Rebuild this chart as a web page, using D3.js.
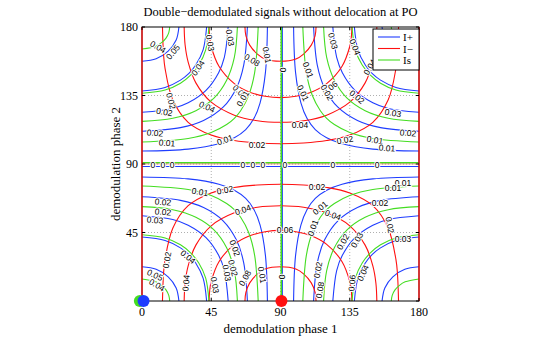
<!DOCTYPE html>
<html><head><meta charset="utf-8">
<script src="https://cdn.jsdelivr.net/npm/d3@7"></script>
<style>body{margin:0;background:#fff}</style>
</head><body>
<svg id="c" width="545" height="341"></svg>
<script>
// ---------------- data ----------------
const title = "Double\u2212demodulated signals without delocation at PO";
const xLabel = "demodulation phase 1";
const yLabel = "demodulation phase 2";
const xTicks = [0, 45, 90, 135, 180];
const yTicks = [0, 45, 90, 135, 180];
const yTickLabels = ["", "45", "90", "135", "180"]; // the "0" is hidden behind the markers
const seriesNames = ["I+", "I\u2212", "Is"];
const seriesColors = ["#1f3dff", "#ff1010", "#44dd22"];

// corners the I+ / Is contours wrap around
const corners = [[0, 0], [180, 0], [0, 180], [180, 180]];

// I+ (blue) contours: [distance from corner along x, distance along y]
const bluePlusLevels = [0.05, 0.04, 0.03, 0.02, 0.01];
const bluePlusArcs = [
  [[0,22.5],[9.2,20.8],[17,15.9],[22.2,8.6],[24,0]],
  [[0,42],[15,39.7],[25,34.9],[30.5,30.5],[34.9,25],[39.7,15],[42,0]],
  [[0,56],[20,53.5],[30,49.8],[41.6,41.6],[49.8,30],[53.5,20],[56,0]],
  [[0,68.5],[25,66.1],[40,61.4],[52.7,52.7],[61.4,40],[66.1,25],[68.5,0]],
  [[0,81.5],[30,80.2],[50,76.7],[60,72.8],[67.4,67.4],[72.8,60],[76.7,50],[80.2,30],[81.5,0]]
];

// Is (green) contours
const isLevels = [0.04, 0.03, 0.02, 0.01];
const isArcs = [
  [[0,14.5],[9,12.6],[12.7,10.3],[15.6,7.3],[17.4,3.7],[18,0]],
  [[0,43.5],[15,41.4],[25,36.9],[31.6,31.6],[36.9,25],[41.4,15],[43.5,0]],
  [[0,62],[20,60],[35,55],[46.75,46.75],[55,35],[60,20],[62,0]],
  [[0,75.5],[30,73.2],[45,69.3],[55,64.1],[60,60],[64.1,55],[69.3,45],[73.2,30],[75.5,0]]
];

// I- (red) contours: [phase 1, distance from bottom (or top) edge]
const minusEdges = [0, 180];
const minusLevels = [0.08, 0.06, 0.04, 0.02];
const minusArcs = [
  [[66.9,0],[67.5,5.6],[70,11.9],[75,17.8],[80,21],[90,22.5],[100,21],[105,17.8],[110,11.9],[112.5,5.6],[113.1,0]],
  [[43.6,0],[44,6.9],[45,12.8],[50,25.8],[60,37.2],[70,42.8],[80,45.5],[90,46.4],[100,45.5],[110,42.8],[120,37.2],[130,25.8],[135,12.8],[136,6.9],[136.4,0]],
  [[27.4,0],[28,11.7],[30,23.1],[35,36.7],[45,49.4],[60,57.9],[75,61.6],[90,62.6],[105,61.6],[120,57.9],[135,49.4],[145,36.7],[150,23.1],[152,11.7],[152.6,0]],
  [[13.3,0],[14,18.1],[15,27.3],[20,47.8],[30,62.6],[45,71],[60,74.6],[75,76.2],[90,76.7],[105,76.2],[120,74.6],[135,71],[150,62.6],[160,47.8],[165,27.3],[166,18.1],[166.7,0]]
];

// zero-level contours
const bluePlusZero = [[[91.2,0],[91.2,180]], [[0,88.4],[180,88.4]]];
const minusZero = [[[0,0],[0,180]], [[180,0],[180,180]], [[0,90],[180,90]]];
const isZero = [[[90.5,0],[90.5,180]], [[0,90.8],[180,90.8]]];

// markers: [phase1, phase2, series index]
const markers = [[-1.4, 0, 2], [1, 0, 0], [90.6, 0, 1]];

// contour labels: [text, phase1, phase2, rotation]
const contourLabels = [
  ["0.04",10.4,166.9,30],["0.05",20.1,163.6,-50],["0.03",44.2,169.5,80],["0.03",57.2,173,80],
  ["0.04",36.4,153.1,-55],["0.01",81.2,161.6,80],["0.08",71.5,158.3,30],["0.06",63.7,137.3,45],
  ["0.01",65.5,133,-60],["0.02",18.8,131.4,75],["0.02",14.5,124.2,10],["0.04",42.2,127.5,25],
  ["0.02",8.4,110.4,5],["0.01",16.2,103.8,5],["0.01",53.9,105.8,-20],["0.02",74.7,102.5,0],
  ["0",91.6,151.8,90],["0.03",124.1,170.8,75],["0.01",107.9,151.8,70],["0.06",122.2,139.9,-40],
  ["0.02",120.2,137,60],["0.01",104.6,136.7,65],["0.04",102.7,115.6,0],["0.02",131.9,105.8,-10],
  ["0.02",139.7,134,40],["0.04",148.1,153.7,-60],["0.04",138.4,166.9,70],["0.03",163.1,123.5,10],
  ["0.02",172.8,110.4,5],["0.01",151.4,105.8,10],["0.01",159.2,100.5,5],
  ["0",7.1,89.4,0],["0",13.6,89.4,0],["0",19.5,89.4,0],["0",65.6,89.4,0],["0",72.1,89.4,0],["0",78.6,89.4,0],
  ["0.01",37.7,71.6,10],["0.02",53.9,72.9,-10],["0.02",13.6,65,5],["0.02",13.6,58.5,5],["0.03",8.4,53.2,5],
  ["0.04",65.6,59.8,-20],["0.06",92.9,46.6,0],["0.02",16.2,26.9,-80],["0.04",29.9,28.9,40],
  ["0.05",8.4,17.1,25],["0.04",9.7,10.5,30],["0.04",28.6,11.8,-85],["0.03",47.4,10.5,80],
  ["0.03",55.2,18.4,80],["0.02",60.4,34.8,70],["0.02",59.1,21.7,75],["0.08",66.9,15.1,-60],
  ["0.01",78,17.1,80],["0",91,15.8,90],
  ["0",92.9,89.4,0],["0",124.1,89.4,0],["0",152.7,89.4,0],
  ["0.02",113.7,74.9,0],["0.01",169.6,77.5,0],["0.01",163.1,74.2,0],["0.01",115.7,61.1,-40],
  ["0.04",124.1,56.5,20],["0.02",154.6,64.4,0],["0.01",111.1,48,-70],["0.02",130.6,38.8,-60],
  ["0.03",139.7,40.1,-60],["0.03",169.6,40.7,0],["0.02",161.1,49.9,80],["0.02",114.4,20.4,-80],
  ["0.08",115.7,7.2,-80],["0.04",143.6,18.4,-65],["0.06",136.5,11.8,-85]
];

// ---------------- drawing ----------------
const svg = d3.select("#c");
svg.append("rect").attr("width",545).attr("height",341).attr("fill","#fff");
const x = d3.scaleLinear().domain([0,180]).range([142,419]);
const y = d3.scaleLinear().domain([0,180]).range([301,27]);

svg.append("defs").append("clipPath").attr("id","clip")
  .append("rect").attr("x",x(0)).attr("y",y(180)).attr("width",x(180)-x(0)).attr("height",y(0)-y(180));

// grid
const grid = svg.append("g").attr("stroke","#9a9a9a").attr("stroke-width",0.8).attr("stroke-dasharray","1,2");
xTicks.slice(1,-1).forEach(t=>grid.append("line").attr("x1",x(t)).attr("x2",x(t)).attr("y1",y(0)).attr("y2",y(180)));
yTicks.slice(1,-1).forEach(t=>grid.append("line").attr("y1",y(t)).attr("y2",y(t)).attr("x1",x(0)).attr("x2",x(180)));

const line = d3.line().x(d=>x(d[0])).y(d=>y(d[1])).curve(d3.curveCatmullRom.alpha(0.5));
const sline = d3.line().x(d=>x(d[0])).y(d=>y(d[1]));
const plot = svg.append("g").attr("clip-path","url(#clip)").attr("fill","none").attr("stroke-width",1.1);

function cornerPath(pts, c){
  return pts.map(p=>[c[0]===0 ? p[0] : 180-p[0], c[1]===0 ? p[1] : 180-p[1]]);
}
function drawCorner(arcs, color){
  corners.forEach(c=>arcs.forEach(a=>plot.append("path").attr("d",line(cornerPath(a,c))).attr("stroke",color)));
}
function drawSimple(list, color, w){
  list.forEach(l=>plot.append("path").attr("d",sline(l)).attr("stroke",color).attr("stroke-width",w||1.1));
}

// I+ (blue)
drawCorner(bluePlusArcs, seriesColors[0]);
drawSimple(bluePlusZero, seriesColors[0]);
// I- (red)
minusEdges.forEach(e=>minusArcs.forEach(a=>{
  const pts = a.map(p=>[p[0], e===0 ? p[1] : 180-p[1]]);
  plot.append("path").attr("d",line(pts)).attr("stroke",seriesColors[1]);
}));
// Is (green)
drawCorner(isArcs, seriesColors[2]);
drawSimple(isZero, seriesColors[2], 1.6);

// axes box
svg.append("rect").attr("x",x(0)).attr("y",y(180)).attr("width",x(180)-x(0)).attr("height",y(0)-y(180))
  .attr("fill","none").attr("stroke","#000").attr("stroke-width",1);
// red zero contours on top (they coincide with the left/right frame)
const topG = svg.append("g").attr("fill","none");
minusZero.forEach(l=>topG.append("path").attr("d",sline(l))
  .attr("stroke",seriesColors[1]).attr("stroke-width", l[0][1]===90 ? 0.8 : 1.3).attr("opacity", l[0][1]===90 ? 0.5 : 1));

// ticks
const tk = svg.append("g").attr("stroke","#000").attr("stroke-width",1);
xTicks.forEach(t=>{
  tk.append("line").attr("x1",x(t)).attr("x2",x(t)).attr("y1",y(0)).attr("y2",y(0)-3);
  tk.append("line").attr("x1",x(t)).attr("x2",x(t)).attr("y1",y(180)).attr("y2",y(180)+3);
});
yTicks.forEach(t=>{
  tk.append("line").attr("y1",y(t)).attr("y2",y(t)).attr("x1",x(0)).attr("x2",x(0)+3);
  tk.append("line").attr("y1",y(t)).attr("y2",y(t)).attr("x1",x(180)).attr("x2",x(180)-3);
});

// contour labels
svg.append("g").selectAll("text").data(contourLabels).join("text")
  .attr("transform",d=>`translate(${x(d[1])},${y(d[2])}) rotate(${d[3]})`)
  .attr("text-anchor","middle").attr("dy","0.35em")
  .attr("font-family","Liberation Sans, Arial, sans-serif").attr("font-size",8.5)
  .attr("fill","#000").attr("stroke","#fff").attr("stroke-width",2).attr("paint-order","stroke")
  .text(d=>d[0]);

// markers
svg.append("g").selectAll("circle").data(markers).join("circle")
  .attr("cx",d=>x(d[0])).attr("cy",d=>y(d[1])).attr("r",6)
  .attr("fill",d=>seriesColors[d[2]]);

// tick labels
const serif = "Liberation Serif, Times New Roman, serif";
svg.append("g").selectAll("text").data(xTicks).join("text")
  .attr("x",d=>x(d)).attr("y",y(0)+15).attr("text-anchor","middle")
  .attr("font-family",serif).attr("font-size",12).text(d=>d);
svg.append("g").selectAll("text").data(yTicks).join("text")
  .attr("x",x(0)-4).attr("y",d=>y(d)+4).attr("text-anchor","end")
  .attr("font-family",serif).attr("font-size",12).text((d,i)=>yTickLabels[i]);

// titles
svg.append("text").attr("x",280.5).attr("y",16).attr("text-anchor","middle")
  .attr("font-family",serif).attr("font-size",12.5).text(title);
svg.append("text").attr("x",280.5).attr("y",333).attr("text-anchor","middle")
  .attr("font-family",serif).attr("font-size",13).text(xLabel);
svg.append("text").attr("transform",`translate(120,164) rotate(-90)`).attr("text-anchor","middle")
  .attr("font-family",serif).attr("font-size",13).text(yLabel);

// legend
const lg = svg.append("g");
lg.append("rect").attr("x",373).attr("y",29).attr("width",46).attr("height",41)
  .attr("fill","#fff").attr("stroke","#000").attr("stroke-width",1);
seriesNames.forEach((n,i)=>{
  const yy = 37 + i*11.5;
  lg.append("line").attr("x1",378).attr("x2",400).attr("y1",yy).attr("y2",yy)
    .attr("stroke",seriesColors[i]).attr("stroke-width",1.1);
  lg.append("text").attr("x",403).attr("y",yy+4).attr("font-family",serif).attr("font-size",11).text(n);
});
</script>
</body></html>
